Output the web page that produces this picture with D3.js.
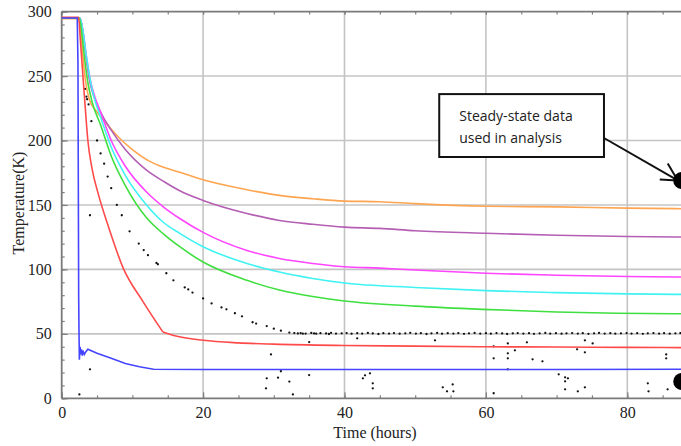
<!DOCTYPE html>
<html><head><meta charset="utf-8">
<script src="https://cdn.jsdelivr.net/npm/d3@7"></script>
<style>body{margin:0;background:#fff}svg{display:block}.tk text{font-family:'Liberation Serif','Times New Roman',serif !important;font-size:16px;fill:#222}</style></head>
<body>
<svg id="c" width="681" height="446"></svg>
<script>
const timeTicks=[0,20,40,60,80];
const tempTicks=[0,50,100,150,200,250,300];
const xLabel="Time (hours)";
const yLabel="Temperature(K)";
const noteLines=["Steady-state data","used in analysis"];

const orange=[[0,294.5],[2.3,294.5],[2.7,285],[3.0,265],[3.4,245],[3.9,232],[5,222],[6.5,212],[8.5,200],[10,193],[12.4,184],[14,180],[16.7,175.4],[20,169.5],[26.2,161.8],[30.8,157.4],[35.5,154.8],[40,153],[45,152.5],[50,151],[60,149],[70,148.5],[80,147.5],[90,147]];
const purple=[[0,295],[2.5,295],[3,285],[3.5,262],[4,245],[4.5,235],[5.5,222],[7,208],[9,193],[12,177],[14.5,168],[16.7,161],[20,153.5],[26.2,143.4],[30.8,138],[35.5,135],[40,132.8],[45,131.8],[50,130],[60,128],[70,126.5],[80,125.5],[90,125]];
const magenta=[[0,295],[2.6,295],[3,285],[3.5,265],[4,248],[4.5,237],[5.5,222],[7,200],[9,180],[12,160],[14.5,148],[16.7,139.5],[20,128.7],[26.2,114.7],[30.8,108.5],[35.5,104.6],[40,102],[45,101],[50,99.5],[60,97],[70,95.5],[80,94.5],[90,94]];
const cyan=[[0,295],[2.6,295],[3,285],[3.5,265],[4,248],[4.5,235],[5.5,218],[7,195],[9,173],[12,150],[14.5,136],[16.7,128],[20,117.6],[26.2,104.6],[30.8,98],[35.5,93],[40,89.5],[50,86],[60,83.5],[70,82],[80,81],[90,80.5]];
const green=[[0,295],[2.5,295],[2.8,285],[3.2,265],[3.7,245],[4.3,230],[5.5,212],[7,188],[9,165],[12,140],[14.5,127],[16.7,117.6],[20,105.7],[26.2,91.5],[30.8,84],[35.5,79],[40,75.5],[50,71.5],[59.5,69],[70,67],[78.5,66],[90,65.5]];
const redDrop=[[0,295.5],[2.4,295.5],[2.6,281],[3.0,250],[3.3,228],[3.7,200],[4.3,178],[5.2,158],[6.5,135],[8.7,101],[11.5,75],[14.3,51.5]];
const redTail=[[14.3,51.5],[16,48.5],[20,45],[25,43],[30,42],[40,41],[50,40.5],[60,40],[70,39.8],[80,39.5],[90,39.3]];
const blue=[[0,295],[2.2,295],[2.3,260],[2.35,170],[2.4,80],[2.45,50],[2.5,30],[2.6,40],[2.7,34],[2.8,38],[2.9,33],[3.0,37],[3.2,34],[3.4,36],[3.7,38],[5,35],[7,31],[9,27],[11,24.5],[13,22.5],[20,22.3],[40,22.3],[70,22.3],[90,22.6]];

const decayDots=[[3.3,240],[3.5,234],[3.6,232],[3.8,228],[4.2,215],[5.0,200],[5.5,190],[6,182],[6.5,172],[7,163],[7.8,150],[8.5,142],[9.6,129.5],[10.9,120],[11.6,115],[12.2,111],[13.4,105],[13.6,104],[14.8,97],[15.8,91.5],[17.4,86],[17.9,84.5],[18.5,82],[20,77.5],[21.2,73.6],[22.6,70.5],[23.3,69],[24.5,66],[25.5,63.6],[27,59],[27.5,58],[29,56],[30,54],[31,52.5],[32.2,51],[32.9,50.6]];
const steadyDots=[[33.4,50.3],[33.8,50.6],[34.1,50.1],[34.5,50.2],[35.3,50.7],[35.7,50.3],[36,50.1],[36.6,50.5],[37.4,50.3],[37.8,49.9],[38.1,50.8],[38.8,50.2],[39.6,50.4],[40.3,50.6],[41,50.1],[41.8,50.5],[42.5,50.2],[43.3,50.7],[44,50.3],[44.8,49.9],[45.5,50.5],[46.3,50.2],[47,50.6],[47.8,50.1],[48.6,50.4],[49.3,50.8],[50.1,50.2],[50.8,50.5],[51.6,49.9],[52.3,50.4],[53.1,50.7],[53.8,50.1],[54.6,50.5],[55.4,50.2],[56.1,50.6],[56.9,50.0],[57.6,50.4],[58.4,50.7],[59.2,50.2],[60,50.5],[60.7,50.1],[61.5,50.6],[62.3,50.3],[63,49.9],[63.8,50.4],[64.5,50.6],[65.3,50.2],[66.1,50.5],[66.8,50.0],[67.6,50.4],[68.4,50.7],[69.1,50.2],[69.9,50.5],[70.7,50.1],[71.4,50.4],[72.2,50.6],[73,50.2],[73.7,50.5],[74.5,50.0],[75.3,50.4],[76,50.7],[76.8,50.2],[77.6,50.5],[78.3,50.1],[79.1,50.4],[79.9,50.6],[80.6,50.2],[81.4,50.5],[82.2,50.0],[82.9,50.4],[83.7,50.6],[84.5,50.2],[85.2,50.5],[86,50.1],[86.8,50.4],[87.5,50.6]];
const outlierDots=[[2.5,3],[4,22.5],[4,142],[29.6,34],[31,21],[29,15.5],[28.9,7.7],[30.6,16],[32.2,13],[32.7,3],[35,18],[35,43.6],[42.6,15.5],[42.9,17.8],[43.6,19.4],[44,11.6],[44,7.7],[41.8,46.5],[52.8,45],[53.9,8.5],[54.5,5.4],[55.3,10.8],[55.4,5.4],[61.1,40.3],[61.1,31],[61.1,3.9],[63.1,42.6],[63.1,34.9],[63.1,31],[63.1,22.5],[64.1,37.2],[65.8,43.4],[66.6,30.2],[68,28.7],[70.3,18.6],[71.2,16.3],[71.2,13.2],[71.6,15.5],[71.2,7],[72.9,38],[73,5.4],[74,45],[74,35.7],[74,8.5],[75.1,42.6],[82.9,11.6],[83,5.4],[85.5,34],[85.5,31],[85.7,7]];

const markers=[[87.7,169],[87.7,13]];
const noteBox={t0:53.4,t1:76.7,T0:236,T1:187.2};

const series=[
 {d:orange,c:"#ffa552",curve:d3.curveMonotoneX},
 {d:purple,c:"#b45fb4",curve:d3.curveMonotoneX},
 {d:magenta,c:"#ff45ff",curve:d3.curveMonotoneX},
 {d:cyan,c:"#40f2f2",curve:d3.curveMonotoneX},
 {d:green,c:"#3fdf3f",curve:d3.curveMonotoneX},
 {d:redDrop,c:"#ff4a4a",curve:d3.curveMonotoneX},
 {d:redTail,c:"#ff4a4a",curve:d3.curveMonotoneX},
 {d:blue,c:"#4545ff",curve:d3.curveLinear}
];

const svg=d3.select("#c");
const x=d3.scaleLinear().domain([0,90]).range([61.7,61.7+7.07*90]);
const y=d3.scaleLinear().domain([0,300]).range([398.3,11.6]);
const W=681;

const g=svg.append("g");
g.selectAll(".gx").data(timeTicks.filter(d=>d>0)).enter().append("line")
 .attr("x1",d=>x(d)).attr("x2",d=>x(d)).attr("y1",y(0)).attr("y2",y(300))
 .attr("stroke","#c4c4c4").attr("stroke-width",1.6);
g.selectAll(".gy").data(tempTicks.filter(d=>d>0&&d<300)).enter().append("line")
 .attr("y1",d=>y(d)).attr("y2",d=>y(d)).attr("x1",x(0)).attr("x2",W)
 .attr("stroke","#c4c4c4").attr("stroke-width",1.6);

const minorX=d3.range(0,91,5);
const minorY=d3.range(0,301,10);
const font="'Liberation Serif','Times New Roman',serif";
function styleAxis(sel){sel.attr("font-family",font).attr("font-size",16);sel.select(".domain").remove();sel.selectAll("line").attr("stroke","#808080").attr("stroke-width",1.2);}
const bx=svg.append("g").attr("transform",`translate(0,${y(0)})`)
 .call(d3.axisBottom(x).tickValues(minorX).tickSize(-3).tickFormat(""));
styleAxis(bx);
const bxM=svg.append("g").attr("class","tk").attr("transform",`translate(0,${y(0)})`)
 .call(d3.axisBottom(x).tickValues(timeTicks).tickSize(-6).tickPadding(10).tickFormat(d3.format("d")));
styleAxis(bxM);
bxM.selectAll("text").attr("dy","0.6em");
const tx=svg.append("g").attr("transform",`translate(0,${y(300)})`)
 .call(d3.axisTop(x).tickValues(minorX.concat(timeTicks)).tickSize(-3).tickFormat(""));
styleAxis(tx);
const ly=svg.append("g").attr("transform",`translate(${x(0)},0)`)
 .call(d3.axisLeft(y).tickValues(minorY).tickSize(-3).tickFormat(""));
styleAxis(ly);
const lyM=svg.append("g").attr("class","tk").attr("transform",`translate(${x(0)},0)`)
 .call(d3.axisLeft(y).tickValues(tempTicks).tickSize(-6).tickPadding(10).tickFormat(d3.format("d")));
styleAxis(lyM);

svg.append("line").attr("x1",x(0)).attr("x2",x(0)).attr("y1",y(0)).attr("y2",y(300)).attr("stroke","#7a7a7a").attr("stroke-width",1.8);
svg.append("line").attr("x1",x(0)).attr("x2",W).attr("y1",y(0)).attr("y2",y(0)).attr("stroke","#7a7a7a").attr("stroke-width",1.8);
svg.append("line").attr("x1",x(0)).attr("x2",W).attr("y1",y(300)).attr("y2",y(300)).attr("stroke","#7a7a7a").attr("stroke-width",1.8);

svg.append("text").attr("x",375).attr("y",438).attr("text-anchor","middle")
 .attr("font-family",font).attr("font-size",16).attr("fill","#222").text(xLabel);
svg.append("text").attr("transform","translate(24,203) rotate(-90)").attr("text-anchor","middle")
 .attr("font-family",font).attr("font-size",16).attr("fill","#222").text(yLabel);

svg.append("clipPath").attr("id","clip").append("rect")
 .attr("x",x(0)).attr("y",y(300)-3).attr("width",W-x(0)).attr("height",y(0)-y(300)+3);
const plot=svg.append("g").attr("clip-path","url(#clip)");

const allDots=decayDots.concat(steadyDots,outlierDots);
plot.selectAll(".dot").data(allDots).enter().append("circle")
 .attr("cx",d=>x(d[0])).attr("cy",d=>y(d[1])).attr("r",1.15).attr("fill","#111");

series.forEach(s=>{
 plot.append("path").datum(s.d)
  .attr("d",d3.line().x(d=>x(d[0])).y(d=>y(d[1])).curve(s.curve))
  .attr("fill","none").attr("stroke",s.c).attr("stroke-width",1.6);
});

const bxX=x(noteBox.t0), bxY=y(noteBox.T0), bxW=x(noteBox.t1)-x(noteBox.t0), bxH=y(noteBox.T1)-y(noteBox.T0);
svg.append("rect").attr("x",bxX).attr("y",bxY).attr("width",bxW).attr("height",bxH)
 .attr("fill","#fff").attr("stroke","#111").attr("stroke-width",2);
noteLines.forEach((t,i)=>{
 svg.append("text").attr("x",bxX+20).attr("y",bxY+27+i*22)
  .attr("font-family","'Open Sans',Lato,sans-serif").attr("font-size",14).attr("fill","#222").text(t);
});
const tip=[x(markers[0][0])-4,y(markers[0][1])];
svg.append("line").attr("x1",bxX+bxW).attr("y1",bxY+bxH-19).attr("x2",tip[0]).attr("y2",tip[1])
 .attr("stroke","#111").attr("stroke-width",2);
svg.append("line").attr("x1",tip[0]-18).attr("y1",tip[1]-1).attr("x2",tip[0]).attr("y2",tip[1]).attr("stroke","#111").attr("stroke-width",2);
svg.append("line").attr("x1",tip[0]-10).attr("y1",tip[1]-17).attr("x2",tip[0]).attr("y2",tip[1]).attr("stroke","#111").attr("stroke-width",2);
svg.selectAll(".mk").data(markers).enter().append("circle")
 .attr("cx",d=>x(d[0])).attr("cy",d=>y(d[1])).attr("r",8.5).attr("fill","#000");
</script>
</body></html>
